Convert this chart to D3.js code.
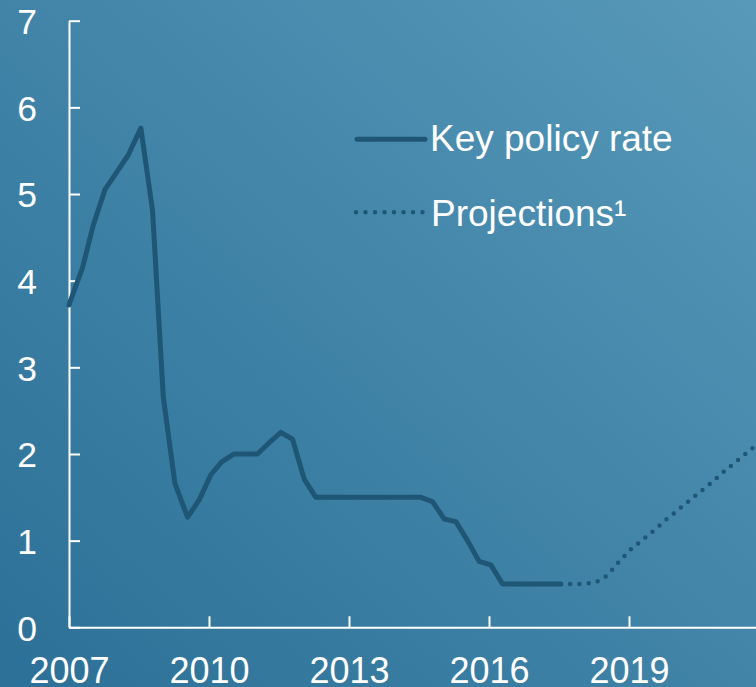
<!DOCTYPE html>
<html>
<head>
<meta charset="utf-8">
<script src="https://cdn.jsdelivr.net/npm/d3@7"></script>
<style>
  html, body { margin: 0; padding: 0; background: #3f82a6; }
  svg { display: block; }
  text { font-family: "Liberation Sans", Arial, sans-serif; fill: #ffffff; }
</style>
</head>
<body>
<script>
// Key policy rate (quarterly, year fraction)
const rateYears = [2007.0, 2007.29, 2007.52, 2007.77, 2008.02, 2008.27, 2008.54, 2008.79, 2009.02, 2009.27, 2009.54, 2009.79, 2010.04, 2010.27, 2010.54, 2010.79, 2011.04, 2011.29, 2011.54, 2011.79, 2012.04, 2012.29, 2012.54, 2012.79, 2013.04, 2013.29, 2013.54, 2013.79, 2014.04, 2014.29, 2014.54, 2014.79, 2015.04, 2015.29, 2015.54, 2015.79, 2016.04, 2016.29, 2016.54, 2016.79, 2017.04, 2017.29, 2017.54];
const rateValues = [3.72, 4.15, 4.64, 5.05, 5.25, 5.45, 5.76, 4.81, 2.66, 1.66, 1.27, 1.47, 1.76, 1.91, 2.0, 2.0, 2.0, 2.13, 2.25, 2.17, 1.71, 1.5, 1.5, 1.5, 1.5, 1.5, 1.5, 1.5, 1.5, 1.5, 1.5, 1.45, 1.25, 1.22, 1.0, 0.76, 0.72, 0.5, 0.5, 0.5, 0.5, 0.5, 0.5];

// Projections
const projYears = [2017.54, 2017.79, 2018.04, 2018.29, 2018.54, 2018.79, 2019.04, 2019.29, 2019.54, 2019.79, 2020.04, 2020.29, 2020.54, 2020.79, 2021.04, 2021.29, 2021.54, 2021.79];
const projValues = [0.5, 0.5, 0.5, 0.52, 0.6, 0.76, 0.9, 1.01, 1.12, 1.24, 1.35, 1.46, 1.57, 1.68, 1.8, 1.91, 2.02, 2.13];

const yTicks = [0, 1, 2, 3, 4, 5, 6, 7];
const xTicks = [2007, 2010, 2013, 2016, 2019];
const legendLabels = ["Key policy rate", "Projections\u00b9"];

const W = 756, H = 687;
const lineColor = "#1f5676";

const svg = d3.select("body").append("svg").attr("width", W).attr("height", H);

const defs = svg.append("defs");
const grad = defs.append("linearGradient").attr("id", "bg")
  .attr("x1", "0").attr("y1", "1").attr("x2", "1").attr("y2", "0");
grad.append("stop").attr("offset", "0%").attr("stop-color", "#2c7097");
grad.append("stop").attr("offset", "50%").attr("stop-color", "#4184a8");
grad.append("stop").attr("offset", "100%").attr("stop-color", "#5899b9");
svg.append("rect").attr("width", W).attr("height", H).attr("fill", "url(#bg)");

const x = d3.scaleLinear().domain([2007, 2022]).range([69, 69 + 15 * 46.667]);
const y = d3.scaleLinear().domain([0, 7]).range([627.3, 20.7]);

// Axes
const yAxis = d3.axisLeft(y).tickValues(yTicks).tickFormat(d3.format("d"))
  .tickSizeInner(-11).tickSizeOuter(0).tickPadding(32);
const gy = svg.append("g").attr("transform", `translate(${x(2007)},0)`).call(yAxis);
gy.select(".domain").attr("stroke", "#fff").attr("stroke-width", 2);
gy.selectAll(".tick line").attr("stroke", "#fff").attr("stroke-width", 2);
gy.selectAll(".tick text").attr("fill", "#fff").attr("font-size", 35.5)
  .attr("font-family", "Liberation Sans, Arial, sans-serif").attr("dy", "0.36em");

const xAxis = d3.axisBottom(x).tickValues(xTicks).tickFormat(d3.format("d"))
  .tickSizeInner(-11).tickSizeOuter(0).tickPadding(30);
const gx = svg.append("g").attr("transform", `translate(0,${y(0)})`).call(xAxis);
gx.select(".domain").attr("stroke", "#fff").attr("stroke-width", 2);
gx.selectAll(".tick line").attr("stroke", "#fff").attr("stroke-width", 2);
gx.selectAll(".tick text").attr("fill", "#fff").attr("font-size", 36)
  .attr("font-family", "Liberation Sans, Arial, sans-serif");

// Lines
const line = d3.line().x(d => x(d[0])).y(d => y(d[1]));
const rateData = rateYears.map((yr, i) => [yr, rateValues[i]]);
const projData = projYears.map((yr, i) => [yr, projValues[i]]);

svg.append("path").datum(projData).attr("d", line)
  .attr("fill", "none").attr("stroke", lineColor).attr("stroke-width", 4.5)
  .attr("stroke-linecap", "round").attr("stroke-dasharray", "0 9.3");

svg.append("path").datum(rateData).attr("d", line)
  .attr("fill", "none").attr("stroke", lineColor).attr("stroke-width", 5)
  .attr("stroke-linejoin", "round").attr("stroke-linecap", "round");

// Legend
const leg = svg.append("g");
leg.append("line").attr("x1", 357).attr("x2", 425).attr("y1", 139.3).attr("y2", 139.3)
  .attr("stroke", lineColor).attr("stroke-width", 5).attr("stroke-linecap", "round");
leg.append("text").attr("x", 430).attr("y", 151).attr("font-size", 37).text(legendLabels[0]);
leg.append("line").attr("x1", 356).attr("x2", 423).attr("y1", 212.3).attr("y2", 212.3)
  .attr("stroke", lineColor).attr("stroke-width", 4.5)
  .attr("stroke-linecap", "round").attr("stroke-dasharray", "0 9.5");
leg.append("text").attr("x", 431).attr("y", 225.5).attr("font-size", 37).text(legendLabels[1]);
</script>
</body>
</html>
